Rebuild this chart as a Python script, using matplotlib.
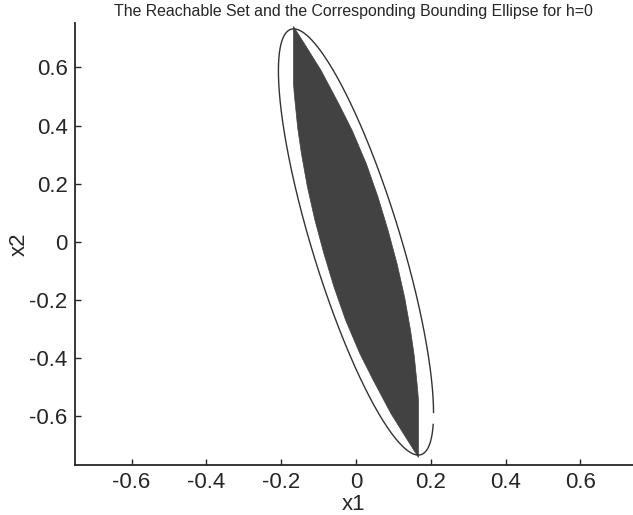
import numpy as np
import matplotlib
matplotlib.use("Agg")
import matplotlib.pyplot as plt

# ---- data ----
# left boundary of the reachable set, top vertex -> bottom vertex (set is symmetric about origin)
set_left_x = [-0.167, -0.167, -0.167, -0.165, -0.158, -0.156, -0.146, -0.130, -0.110,
              -0.086, -0.059, -0.028, 0.010, 0.046, 0.093, 0.138, 0.167]
set_left_y = [0.741, 0.658, 0.545, 0.509, 0.420, 0.394, 0.305, 0.190, 0.076,
              -0.039, -0.154, -0.268, -0.383, -0.475, -0.589, -0.682, -0.741]
# bounding ellipse shape matrix  x' P^-1 x <= 1
ellipse_P = [[0.043, -0.122], [-0.122, 0.537]]
ellipse_gap_y = (-0.626, -0.588)   # small break in the drawn ellipse (right side)

xticks = [-0.6, -0.4, -0.2, 0, 0.2, 0.4, 0.6]
yticks = [-0.6, -0.4, -0.2, 0, 0.2, 0.4, 0.6]
xtick_labels = ["-0.6", "-0.4", "-0.2", "0", "0.2", "0.4", "0.6"]
ytick_labels = ["-0.6", "-0.4", "-0.2", "0", "0.2", "0.4", "0.6"]
title = "The Reachable Set and the Corresponding Bounding Ellipse for h=0"

plt.rcParams['font.family'] = ['Liberation Sans', 'DejaVu Sans']
fig = plt.figure(figsize=(6.33, 5.15), dpi=100)
ax = fig.add_axes([0.118, 0.0971, 0.882, 0.8577])

lx = np.array(set_left_x); ly = np.array(set_left_y)
px = np.concatenate([lx, -lx[1:-1]])
py = np.concatenate([ly, -ly[1:-1]])
ax.fill(px, py, color='#424242', lw=0.5, ec='#424242', zorder=2)

P = np.array(ellipse_P)
L = np.linalg.cholesky(P)
t = np.linspace(0, 2 * np.pi, 1441)
E = L @ np.vstack([np.cos(t), np.sin(t)])
ex, ey = E[0].copy(), E[1].copy()
right_branch = ex > (P[0, 1] / P[1, 1]) * ey
mask = right_branch & (ey > ellipse_gap_y[0]) & (ey < ellipse_gap_y[1])
ex[mask] = np.nan; ey[mask] = np.nan
ax.plot(ex, ey, color='#333333', lw=1.0, zorder=3)

ax.set_xlim(-0.752, 0.7406)
ax.set_ylim(-0.767, 0.752)
ax.set_xticks(xticks, xtick_labels)
ax.set_yticks(yticks, ytick_labels)
for s in ['top', 'right']:
    ax.spines[s].set_visible(False)
for s in ['left', 'bottom']:
    ax.spines[s].set_linewidth(1.3)
    ax.spines[s].set_color('#262626')
ax.tick_params(direction='in', length=4, width=1.0, color='#262626',
               labelsize=16, labelcolor='#262626', pad=5)
ax.set_xlabel('x1', fontsize=16, color='#262626', labelpad=1)
ax.set_ylabel('x2', fontsize=16, color='#262626', labelpad=0)
ax.set_title(title, fontsize=11.4, color='#262626', pad=5)

fig.savefig('out.png', dpi=100)
